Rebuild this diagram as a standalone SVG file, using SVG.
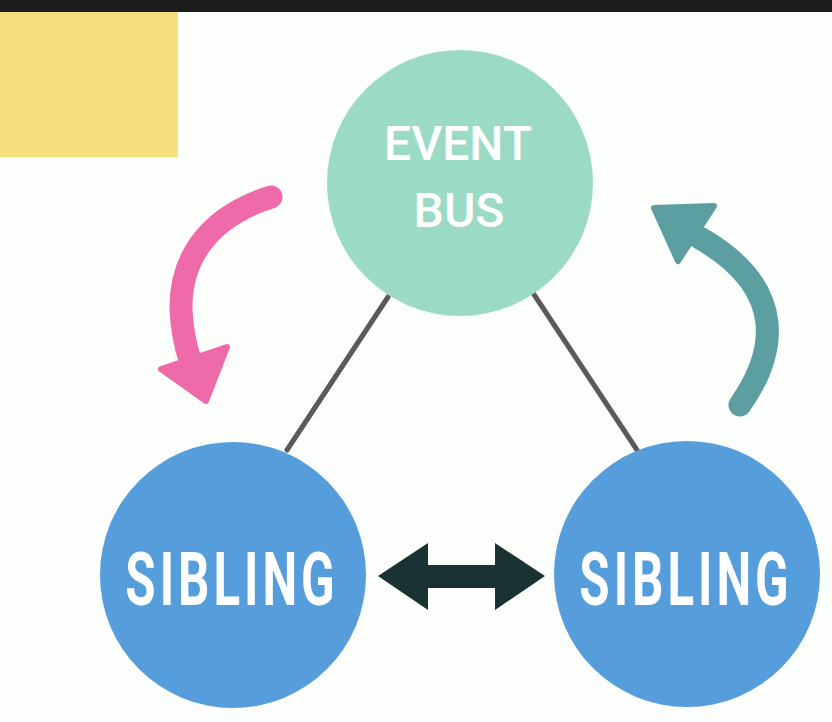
<svg xmlns="http://www.w3.org/2000/svg" width="832" height="722" viewBox="0 0 832 722">
  <style>
    .bus { fill: #9bdbc5; }
    .sib { fill: #559ddb; }
    .bustxt { font-family: Roboto, "Liberation Sans", sans-serif; font-size: 48px; font-weight: 500; fill: #ffffff; text-anchor: middle; }
    .sibtxt { font-family: Roboto, "Liberation Sans", sans-serif; font-size: 74px; font-weight: bold; fill: #ffffff; letter-spacing: 6px; text-anchor: middle; }
    .link { stroke: #5a5a5a; stroke-width: 5; stroke-linecap: round; fill: none; }
  </style>
  <rect x="0" y="0" width="832" height="722" fill="#fcfefb"/>
  <rect x="0" y="0" width="832" height="12" fill="#1c1c1c"/>
  <rect x="0" y="12" width="178" height="145" fill="#f6df7c"/>

  <g id="connectors">
    <line class="link" x1="388" y1="297" x2="287" y2="450"/>
    <line class="link" x1="533" y1="293" x2="637" y2="450"/>
    <g id="pink-arrow" fill="#ee6aa9" stroke="#ee6aa9">
      <path d="M 271 197 C 205 218 180 262 181 310 C 182 330 185 345 190 360" fill="none" stroke-width="23" stroke-linecap="round"/>
      <polygon points="161,369 227,347 206,401" stroke-width="6" stroke-linejoin="round"/>
    </g>
    <g id="teal-arrow" fill="#5c9fa0" stroke="#5c9fa0">
      <path d="M 740 405 C 775 355 790 290 700 238" fill="none" stroke-width="23" stroke-linecap="round"/>
      <polygon points="654,208 714,206 678,261" stroke-width="6" stroke-linejoin="round"/>
    </g>
    <polygon id="double-arrow" points="378,576 428,543 428,565 495,565 495,543 545,576 495,610 495,588 428,588 428,610" fill="#1a3232"/>
  </g>

  <g id="event-bus">
    <circle class="bus" cx="460" cy="183" r="133"/>
    <text class="bustxt" x="458" y="160">EVENT</text>
    <text class="bustxt" x="459" y="227">BUS</text>
  </g>
  <g id="sibling-left">
    <circle class="sib" cx="233" cy="575" r="133"/>
    <text class="sibtxt" transform="translate(232,605) scale(0.665,1)">SIBLING</text>
  </g>
  <g id="sibling-right">
    <circle class="sib" cx="687" cy="574" r="133"/>
    <text class="sibtxt" transform="translate(686,605) scale(0.665,1)">SIBLING</text>
  </g>
</svg>
